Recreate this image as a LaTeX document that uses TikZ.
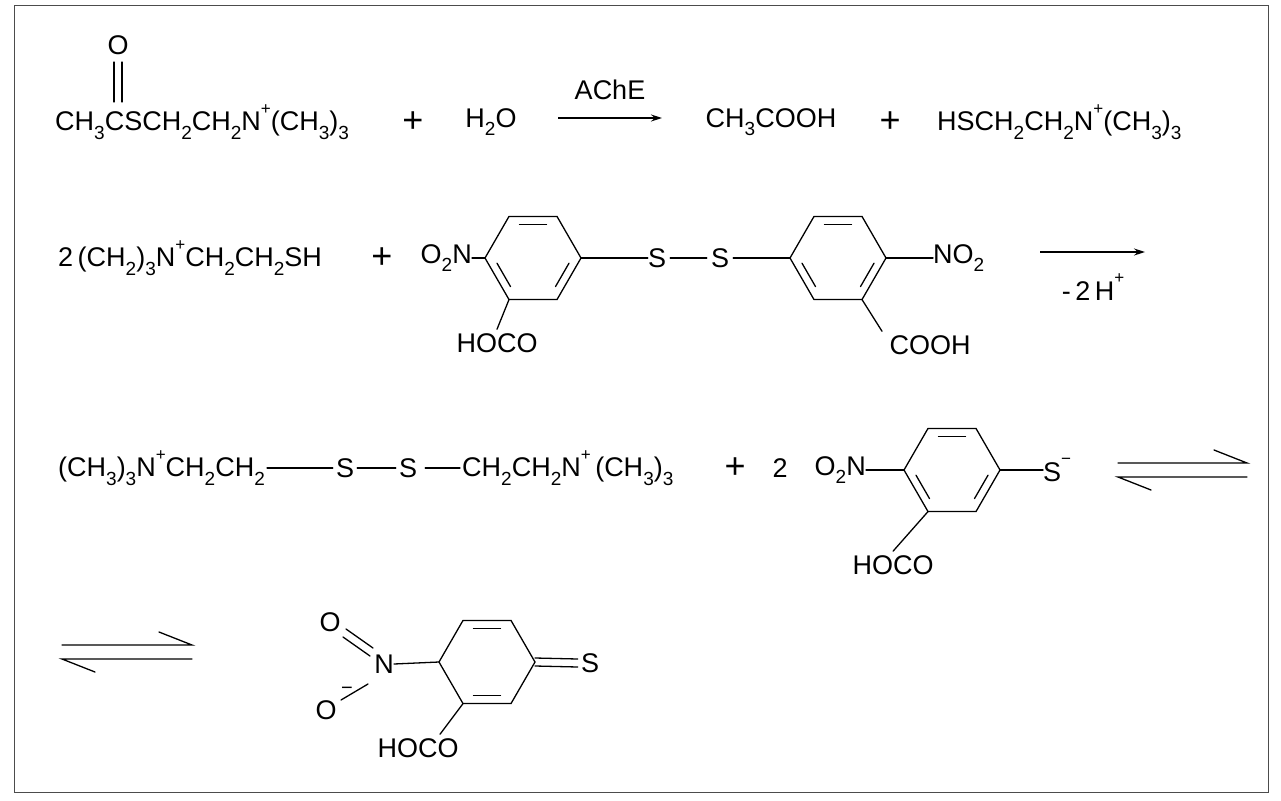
\documentclass[tikz,border=0pt]{standalone}
\usepackage{fontspec}
\setmainfont{Liberation Sans}
\usetikzlibrary{calc,arrows.meta}
\newcommand\lo[1]{\raisebox{-0.32em}{\fontsize{19}{19}\selectfont #1}}
\newcommand\hi[1]{\raisebox{0.6em}{\fontsize{17}{17}\selectfont #1}}
\newcommand\ringat[3]{% name, x, y
  \coordinate (#1) at (#2,#3);
  \foreach \a/\n in {0/R,60/BR,120/BL,180/L,240/TL,300/TR}{\coordinate (#1\n) at ($(#1)+(\a:48)$);}
  \draw[bond] (#1R)--(#1BR)--(#1BL)--(#1L)--(#1TL)--(#1TR)--cycle;}
\newcommand\inner[3]{\draw[bond,shorten <=6pt,shorten >=6pt] ($(#1)+(#2:39)$)--($(#1)+(#3:39)$);}
\begin{document}
\begin{tikzpicture}[x=1pt,y=-1pt,
  bond/.style={line width=1.3pt,line cap=round},
  txt/.style={inner sep=0pt,font=\fontsize{27}{27}\selectfont},
  plus/.style={inner sep=0pt,font=\fontsize{36}{36}\selectfont},
  arr/.style={line width=1.3pt,-{Stealth[length=11pt,width=7pt]}}]
\useasboundingbox (0,0) rectangle (1281,800);
\draw[line width=1pt,black!70] (14,6) rectangle (1268,792);
% row 1
\node[txt,anchor=west] (a1) at (55,122) {CH\lo3CSCH\lo2CH\lo2N\hi+(CH\lo3)\lo3};
\node[txt] (o1) at (118,45) {O};
\draw[bond] (114,62)--(114,102) (122,62)--(122,102);
\node[plus] (p1) at (413,122) {+};
\node[txt] (w1) at (491,122) {H\lo2O};
\coordinate (ar1a) at (558,118); \coordinate (ar1b) at (662,118);
\draw[arr] (ar1a)--(ar1b);
\node[txt] (ache) at (610,90) {AChE};
\node[txt] (ac) at (771,122) {CH\lo3COOH};
\node[plus] (p2) at (890,122) {+};
\node[txt,anchor=west] (tc) at (937,122) {HSCH\lo2CH\lo2N\hi+(CH\lo3)\lo3};
% row 2
\node[txt,anchor=west] (tc2) at (58,258) {2\,(CH\lo2)\lo3N\hi+CH\lo2CH\lo2SH};
\node[plus] (p3) at (382,258) {+};
\ringat{ra}{533}{258}
\inner{ra}{240}{300}\inner{ra}{0}{60}\inner{ra}{120}{180}
\node[txt,anchor=east] (na) at (472,258) {O\lo2N};
\draw[bond] (na.east)--(raL);
\node[txt] (s1) at (657,258) {S};
\node[txt] (s2) at (720,258) {S};
\draw[bond] (raR)--(s1.west);
\draw[bond] ($(s1.east)+(4,0)$)--($(s2.west)+(-4,0)$);
\ringat{rb}{838}{258}
\inner{rb}{240}{300}\inner{rb}{0}{60}\inner{rb}{120}{180}
\draw[bond] ($(s2.east)+(4,0)$)--(rbL);
\node[txt,anchor=west] (nb) at (933,258) {NO\lo2};
\draw[bond] (rbR)--(nb.west);
\node[txt] (ha) at (497,343) {HOCO};
\draw[bond] (raBL)--($(ha.north)+(0,-4)$);
\node[txt] (hb) at (930,345) {COOH};
\draw[bond] (rbBR)--($(hb.north)+(-48,-4)$);
\coordinate (ar2a) at (1040,252); \coordinate (ar2b) at (1145,252);
\draw[arr] (ar2a)--(ar2b);
\node[txt] (h2) at (1093,287) {-\,2\,H\hi+};
% row 3
\node[txt,anchor=west] (t3a) at (58,468) {(CH\lo3)\lo3N\hi+CH\lo2CH\lo2};
\node[txt] (s3) at (345,468) {S};
\node[txt] (s4) at (408,468) {S};
\node[txt,anchor=west] (t3b) at (462,468) {CH\lo2CH\lo2N\hi+\,(CH\lo3)\lo3};
\draw[bond] ($(t3a.east)+(2,0)$)--($(s3.west)+(-3,0)$);
\draw[bond] ($(s3.east)+(3,0)$)--($(s4.west)+(-3,0)$);
\draw[bond] ($(s4.east)+(8,0)$)--($(t3b.west)+(-2,0)$);
\node[plus] (p4) at (735,468) {+};
\node[txt] (two) at (780,468) {2};
\ringat{rc}{952}{470}
\inner{rc}{240}{300}\inner{rc}{0}{60}\inner{rc}{120}{180}
\node[txt,anchor=east] (nc) at (866,470) {O\lo2N};
\draw[bond] (nc.east)--(rcL);
\node[txt,anchor=west] (sc) at (1043,470) {S\hi{\textminus}};
\draw[bond] (rcR)--(sc.west);
\node[txt] (hc) at (893,565) {HOCO};
\draw[bond] (rcBL)--($(hc.north)+(0,-4)$);
\coordinate (e1a) at (1118,463); \coordinate (e1b) at (1247,463);
\coordinate (e1c) at (1118,477); \coordinate (e1d) at (1247,477);
\draw[bond] (e1a)--(e1b)--(1214,450);
\draw[bond] (e1d)--(e1c)--(1151,490);
% row 4
\coordinate (e2a) at (62,645); \coordinate (e2b) at (192,645);
\coordinate (e2c) at (62,659); \coordinate (e2d) at (192,659);
\draw[bond] (e2a)--(e2b)--(159,632);
\draw[bond] (e2d)--(e2c)--(95,672);
\ringat{rd}{487}{662}
\inner{rd}{240}{300}\inner{rd}{60}{120}
\node[txt] (nd) at (384,664) {N};
\draw[bond] (nd.east)--(rdL);
\node[txt] (od1) at (330,622) {O};
\node[txt] (od2) at (326,710) {O};
\node[txt,font=\fontsize{20}{20}\selectfont] (mn) at (347,691) {\textminus};
\draw[bond] (346,629)--(373,648) (343,637)--(370,656);
\draw[bond] (341,700)--(368,684);
\node[txt] (sd) at (590,663) {S};
\draw[bond] ($(rdR)+(0,-4)$)--($(sd.west)+(-3,-4)$);
\draw[bond] ($(rdR)+(0,4)$)--($(sd.west)+(-3,4)$);
\node[txt] (hd) at (418,748) {HOCO};
\draw[bond] (rdBL)--($(hd.north)+(22,-4)$);
\end{tikzpicture}
\end{document}
